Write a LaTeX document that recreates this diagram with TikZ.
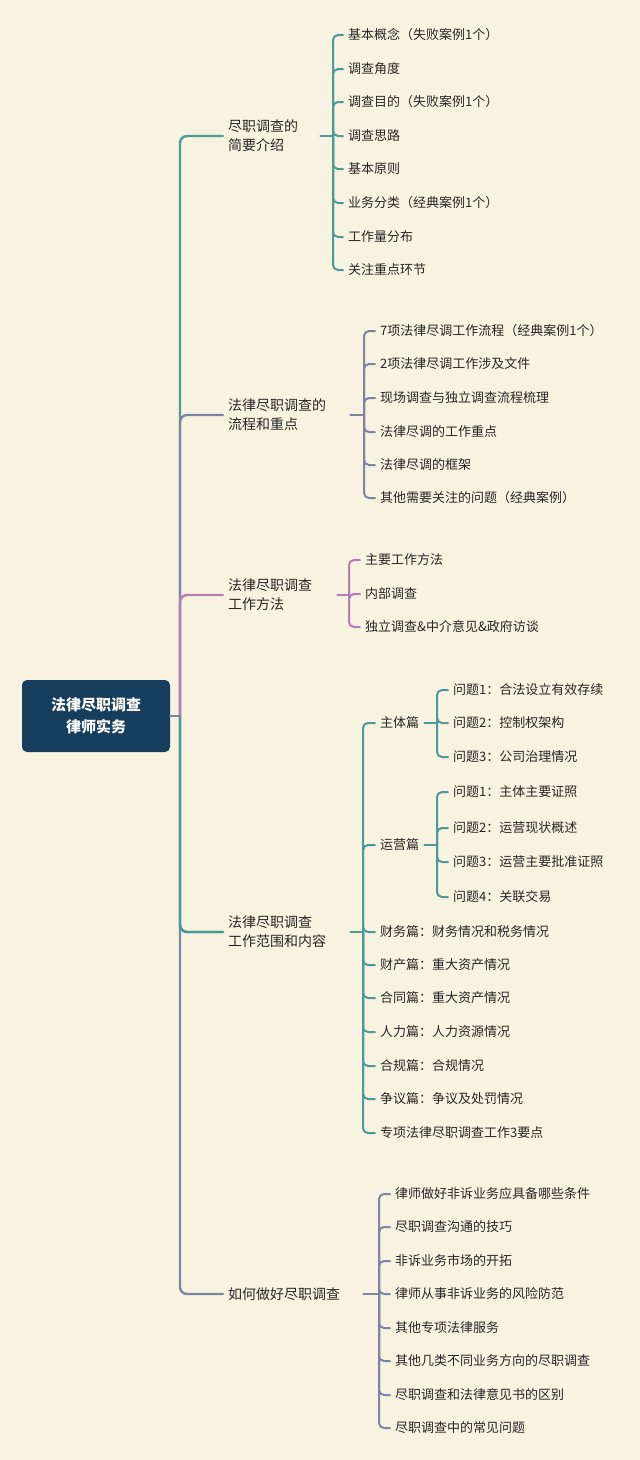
\documentclass[tikz,border=0pt]{standalone}
\usepackage{fontspec}
\setmainfont{Noto Sans CJK SC}
\usetikzlibrary{positioning}
\definecolor{bgcol}{HTML}{F8F3E1}
\definecolor{rootcol}{HTML}{173D5C}
\definecolor{tealcol}{HTML}{4C9A97}
\definecolor{greycol}{HTML}{7D84A6}
\definecolor{pinkcol}{HTML}{B47DB4}
\tikzset{
  leaf/.style={anchor=west,inner sep=5pt,font=\fontsize{13}{16}\selectfont,text=black!85},
  topic/.style={anchor=west,inner sep=5pt,align=left,font=\fontsize{14}{19}\selectfont,text=black!85},
  trunk/.style={line width=2.4pt,rounded corners=7pt},
  br/.style={line width=2pt,rounded corners=5pt}
}
\begin{document}
\begin{tikzpicture}[x=1pt,y=-1pt,line cap=round,line join=round]

\fill[bgcol] (0,0) rectangle (640,1460);
\useasboundingbox (0,0) rectangle (640,1460);

% root
\node[fill=rootcol,rounded corners=5pt,minimum width=148pt,minimum height=72pt,align=center,
  text=white,font=\fontsize{15}{22}\selectfont\bfseries] (root) at (96,716) {法律尽职调查\\律师实务};
\coordinate (t) at (180,716);

% main topics
\node[topic,text width=87pt] (b1) at (223,136) {尽职调查的\\简要介绍};
\node[topic,text width=117pt] (b2) at (223,415) {法律尽职调查的\\流程和重点};
\node[topic,text width=104pt] (b3) at (223,595) {法律尽职调查\\工作方法};
\node[topic,text width=117pt] (b4) at (223,932) {法律尽职调查\\工作范围和内容};
\node[topic,text width=130pt] (b5) at (223,1294) {如何做好尽职调查};

\draw[trunk,tealcol] (t) |- (b1.west);
\draw[trunk,greycol] (t) |- (b2.west);
\draw[trunk,pinkcol] (t) |- (b3.west);
\draw[trunk,tealcol] (t) |- (b4.west);
\draw[trunk,greycol] (t) |- (b5.west);
\draw[trunk,tealcol] (t) -- (t|-b4.west) -- (b4.west);
\draw[trunk,greycol] (root.east) -- (t);

% branch 1
\coordinate (j1) at (333,136);
\draw[br,tealcol] (b1.east) -- (j1);
\foreach \y/\t [count=\i] in {35/基本概念（失败案例1个）,69/调查角度,102/调查目的（失败案例1个）,
  136/调查思路,169/基本原则,203/业务分类（经典案例1个）,237/工作量分布,270/关注重点环节}{
  \node[leaf] (c1-\i) at (343,\y) {\t};
  \draw[br,tealcol] (j1) |- (c1-\i.west);
}

% branch 2
\coordinate (j2) at (364,415);
\draw[br,greycol] (b2.east) -- (j2);
\foreach \y/\t [count=\i] in {331/7项法律尽调工作流程（经典案例1个）,364/2项法律尽调工作涉及文件,
  398/现场调查与独立调查流程梳理,432/法律尽调的工作重点,465/法律尽调的框架,498/其他需要关注的问题（经典案例）}{
  \node[leaf] (c2-\i) at (375,\y) {\t};
  \draw[br,greycol] (j2) |- (c2-\i.west);
}

% branch 3
\coordinate (j3) at (349,595);
\draw[br,pinkcol] (b3.east) -- (j3);
\foreach \y/\t [count=\i] in {560/主要工作方法,594/内部调查,627/独立调查\&中介意见\&政府访谈}{
  \node[leaf] (c3-\i) at (360,\y) {\t};
  \draw[br,pinkcol] (j3) |- (c3-\i.west);
}

% branch 4
\coordinate (j4) at (363,932);
\draw[br,tealcol] (b4.east) -- (j4);
\foreach \y/\t [count=\i] in {723/主体篇,845/运营篇,932/财务篇：财务情况和税务情况,965/财产篇：重大资产情况,
  998/合同篇：重大资产情况,1032/人力篇：人力资源情况,1066/合规篇：合规情况,1099/争议篇：争议及处罚情况,
  1133/专项法律尽职调查工作3要点}{
  \node[leaf] (c4-\i) at (375,\y) {\t};
  \draw[br,tealcol] (j4) |- (c4-\i.west);
}
\coordinate (k1) at (437,723);
\draw[br,tealcol] (c4-1.east) -- (k1);
\foreach \y/\t [count=\i] in {690/问题1：合法设立有效存续,723/问题2：控制权架构,757/问题3：公司治理情况}{
  \node[leaf] (d1-\i) at (448,\y) {\t};
  \draw[br,tealcol] (k1) |- (d1-\i.west);
}
\coordinate (k2) at (437,845);
\draw[br,tealcol] (c4-2.east) -- (k2);
\foreach \y/\t [count=\i] in {792/问题1：主体主要证照,828/问题2：运营现状概述,862/问题3：运营主要批准证照,897/问题4：关联交易}{
  \node[leaf] (d2-\i) at (448,\y) {\t};
  \draw[br,tealcol] (k2) |- (d2-\i.west);
}

% branch 5
\coordinate (j5) at (379,1294);
\draw[br,greycol] (b5.east) -- (j5);
\foreach \y/\t [count=\i] in {1194/律师做好非诉业务应具备哪些条件,1227/尽职调查沟通的技巧,1261/非诉业务市场的开拓,
  1294/律师从事非诉业务的风险防范,1328/其他专项法律服务,1361/其他几类不同业务方向的尽职调查,
  1395/尽职调查和法律意见书的区别,1428/尽职调查中的常见问题}{
  \node[leaf] (c5-\i) at (390,\y) {\t};
  \draw[br,greycol] (j5) |- (c5-\i.west);
}
\end{tikzpicture}
\end{document}
